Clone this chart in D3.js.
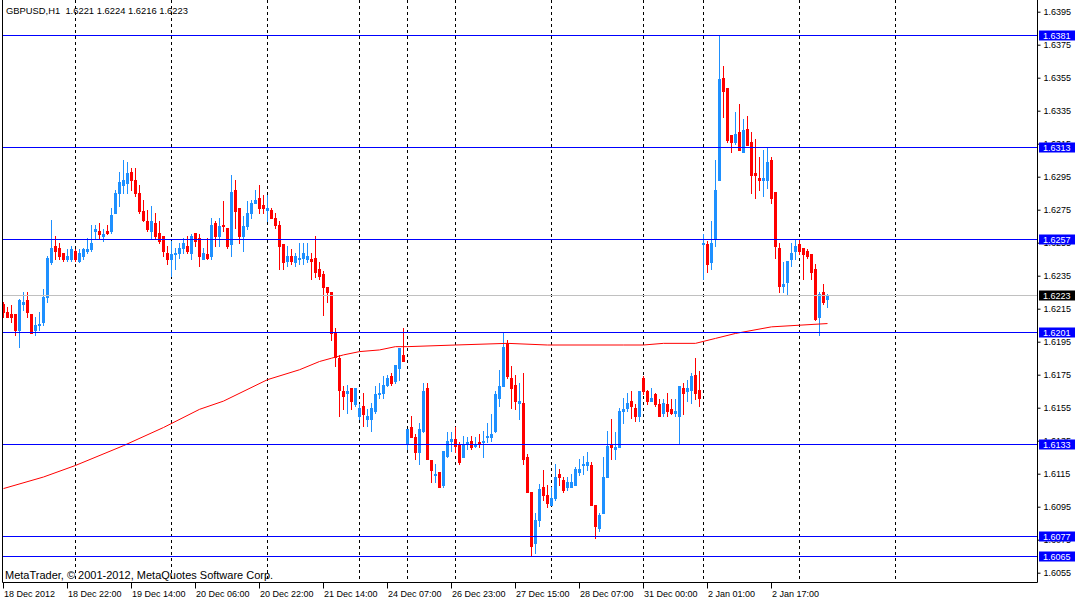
<!DOCTYPE html>
<html>
<head>
<meta charset="utf-8">
<script src="https://cdn.jsdelivr.net/npm/d3@7"></script>
<style>
	body { margin: 0; background: #fff; }
	svg { display: block; font-family: "Liberation Sans", Arial, sans-serif; }
</style>
</head>
<body>
<script>
// GBPUSD H1 candles, bar index = position in the arrays
var opens = [
	1.6218,1.6213,1.6212,1.6212,1.6202,1.6218,1.6220,1.6212,1.6202,1.6205,
	1.6207,1.6222,1.6243,1.6253,1.6252,1.6249,1.6245,1.6245,1.6250,1.6244,
	1.6247,1.6250,1.6251,1.6262,1.6262,1.6259,1.6262,1.6262,1.6273,1.6285,
	1.6290,1.6291,1.6298,1.6293,1.6285,1.6274,1.6268,1.6262,1.6267,1.6261,
	1.6259,1.6249,1.6245,1.6248,1.6249,1.6252,1.6253,1.6249,1.6261,1.6258,
	1.6245,1.6248,1.6247,1.6267,1.6259,1.6266,1.6264,1.6254,1.6287,1.6276,
	1.6259,1.6265,1.6273,1.6279,1.6282,1.6278,1.6275,1.6275,1.6270,1.6266,
	1.6254,1.6244,1.6247,1.6243,1.6245,1.6246,1.6245,1.6245,1.6246,1.6239,
	1.6236,1.6228,1.6225,1.6200,1.6185,1.6165,1.6164,1.6167,1.6157,1.6150,
	1.6156,1.6148,1.6148,1.6153,1.6163,1.6164,1.6169,1.6174,1.6171,1.6179,
	1.6187,1.6133,1.6143,1.6137,1.6128,1.6141,1.6167,1.6123,1.6114,1.6116,
	1.6108,1.6126,1.6135,1.6136,1.6133,1.6125,1.6133,1.6135,1.6132,1.6134,
	1.6134,1.6137,1.6137,1.6141,1.6161,1.6168,1.6194,1.6173,1.6169,1.6158,
	1.6158,1.6125,1.6104,1.6073,1.6087,1.6107,1.6102,1.6096,1.6100,1.6115,
	1.6111,1.6107,1.6107,1.6108,1.6116,1.6120,1.6120,1.6120,1.6096,1.6082,
	1.6091,1.6113,1.6133,1.6130,1.6131,1.6153,1.6155,1.6159,1.6155,1.6150,
	1.6173,1.6165,1.6159,1.6163,1.6157,1.6152,1.6157,1.6154,1.6152,1.6150,
	1.6167,1.6165,1.6166,1.6175,1.6166,1.6254,1.6254,1.6243,1.6257,1.6293,
	1.6355,1.6349,1.6320,1.6316,1.6322,1.6310,1.6324,1.6316,1.6297,1.6294,
	1.6293,1.6293,1.6305,1.6286,1.6252,1.6229,1.6231,1.6245,1.6250,1.6254,
	1.6252,1.6250,1.6248,1.6239,1.6210,1.6225,1.6221
];
var highs = [
	1.6219,1.6216,1.6217,1.6212,1.6221,1.6225,1.6225,1.6212,1.6210,1.6213,
	1.6227,1.6247,1.6269,1.6259,1.6255,1.6249,1.6251,1.6253,1.6251,1.6251,
	1.6252,1.6258,1.6266,1.6266,1.6267,1.6263,1.6266,1.6276,1.6287,1.6298,
	1.6305,1.6304,1.6300,1.6300,1.6290,1.6281,1.6275,1.6277,1.6273,1.6268,
	1.6259,1.6253,1.6256,1.6252,1.6255,1.6258,1.6259,1.6260,1.6261,1.6260,
	1.6252,1.6258,1.6270,1.6268,1.6270,1.6280,1.6264,1.6296,1.6293,1.6276,
	1.6271,1.6280,1.6281,1.6287,1.6290,1.6284,1.6284,1.6276,1.6273,1.6268,
	1.6254,1.6253,1.6251,1.6249,1.6255,1.6255,1.6255,1.6249,1.6259,1.6243,
	1.6238,1.6228,1.6225,1.6203,1.6187,1.6168,1.6169,1.6167,1.6167,1.6157,
	1.6164,1.6154,1.6158,1.6168,1.6170,1.6174,1.6175,1.6176,1.6181,1.6191,
	1.6203,1.6142,1.6150,1.6139,1.6146,1.6170,1.6170,1.6123,1.6121,1.6116,
	1.6129,1.6140,1.6140,1.6143,1.6134,1.6138,1.6137,1.6138,1.6137,1.6139,
	1.6141,1.6146,1.6151,1.6165,1.6178,1.6200,1.6196,1.6180,1.6175,1.6170,
	1.6176,1.6127,1.6104,1.6091,1.6109,1.6117,1.6108,1.6107,1.6121,1.6118,
	1.6113,1.6113,1.6115,1.6119,1.6124,1.6126,1.6128,1.6122,1.6096,1.6091,
	1.6125,1.6141,1.6148,1.6140,1.6155,1.6161,1.6164,1.6165,1.6157,1.6165,
	1.6174,1.6166,1.6167,1.6164,1.6160,1.6160,1.6164,1.6160,1.6160,1.6168,
	1.6170,1.6172,1.6176,1.6185,1.6177,1.6260,1.6256,1.6268,1.6305,1.6381,
	1.6362,1.6349,1.6320,1.6334,1.6339,1.6330,1.6332,1.6322,1.6318,1.6307,
	1.6311,1.6313,1.6307,1.6286,1.6255,1.6243,1.6244,1.6255,1.6257,1.6257,
	1.6252,1.6251,1.6248,1.6242,1.6225,1.6230,1.6224
];
var lows = [
	1.6210,1.6210,1.6207,1.6199,1.6192,1.6214,1.6210,1.6200,1.6199,1.6202,
	1.6205,1.6219,1.6242,1.6245,1.6245,1.6244,1.6244,1.6244,1.6244,1.6243,
	1.6245,1.6249,1.6250,1.6257,1.6258,1.6256,1.6260,1.6261,1.6273,1.6277,
	1.6285,1.6285,1.6287,1.6283,1.6273,1.6268,1.6262,1.6257,1.6257,1.6255,
	1.6247,1.6242,1.6235,1.6239,1.6246,1.6249,1.6249,1.6245,1.6253,1.6241,
	1.6245,1.6245,1.6245,1.6253,1.6253,1.6262,1.6252,1.6247,1.6264,1.6255,
	1.6250,1.6263,1.6270,1.6279,1.6273,1.6273,1.6268,1.6270,1.6264,1.6239,
	1.6239,1.6241,1.6242,1.6241,1.6242,1.6242,1.6243,1.6233,1.6234,1.6233,
	1.6211,1.6219,1.6196,1.6180,1.6150,1.6154,1.6152,1.6154,1.6156,1.6148,
	1.6144,1.6144,1.6141,1.6152,1.6161,1.6161,1.6168,1.6169,1.6170,1.6172,
	1.6183,1.6130,1.6137,1.6124,1.6121,1.6140,1.6124,1.6110,1.6110,1.6107,
	1.6107,1.6125,1.6129,1.6128,1.6121,1.6125,1.6130,1.6130,1.6131,1.6131,
	1.6125,1.6134,1.6135,1.6140,1.6156,1.6168,1.6173,1.6155,1.6154,1.6148,
	1.6121,1.6104,1.6065,1.6067,1.6083,1.6099,1.6095,1.6096,1.6099,1.6108,
	1.6104,1.6105,1.6107,1.6108,1.6114,1.6115,1.6117,1.6096,1.6076,1.6080,
	1.6091,1.6113,1.6124,1.6124,1.6131,1.6146,1.6153,1.6149,1.6147,1.6147,
	1.6163,1.6157,1.6159,1.6156,1.6150,1.6150,1.6150,1.6151,1.6150,1.6133,
	1.6151,1.6159,1.6158,1.6160,1.6156,1.6233,1.6237,1.6239,1.6253,1.6293,
	1.6331,1.6316,1.6310,1.6315,1.6311,1.6310,1.6314,1.6285,1.6282,1.6287,
	1.6283,1.6288,1.6279,1.6246,1.6225,1.6225,1.6224,1.6241,1.6245,1.6248,
	1.6233,1.6246,1.6233,1.6208,1.6199,1.6218,1.6216
];
var closes = [
	1.6213,1.6210,1.6210,1.6202,1.6220,1.6219,1.6213,1.6200,1.6205,1.6206,
	1.6222,1.6246,1.6252,1.6250,1.6247,1.6245,1.6247,1.6251,1.6245,1.6249,
	1.6251,1.6251,1.6255,1.6263,1.6260,1.6260,1.6261,1.6272,1.6285,1.6292,
	1.6293,1.6297,1.6293,1.6285,1.6274,1.6269,1.6263,1.6268,1.6259,1.6256,
	1.6250,1.6245,1.6248,1.6249,1.6252,1.6255,1.6250,1.6259,1.6256,1.6247,
	1.6249,1.6246,1.6266,1.6259,1.6265,1.6265,1.6253,1.6286,1.6274,1.6259,
	1.6265,1.6273,1.6279,1.6281,1.6276,1.6276,1.6276,1.6270,1.6266,1.6253,
	1.6243,1.6247,1.6244,1.6247,1.6246,1.6249,1.6247,1.6244,1.6237,1.6235,
	1.6228,1.6225,1.6200,1.6186,1.6166,1.6162,1.6165,1.6159,1.6167,1.6155,
	1.6151,1.6150,1.6155,1.6163,1.6164,1.6169,1.6173,1.6170,1.6181,1.6191,
	1.6183,1.6142,1.6137,1.6128,1.6142,1.6165,1.6124,1.6117,1.6115,1.6107,
	1.6129,1.6135,1.6136,1.6132,1.6122,1.6133,1.6134,1.6131,1.6133,1.6133,
	1.6135,1.6138,1.6139,1.6163,1.6168,1.6192,1.6174,1.6167,1.6159,1.6159,
	1.6124,1.6104,1.6071,1.6087,1.6106,1.6102,1.6097,1.6100,1.6113,1.6113,
	1.6105,1.6110,1.6110,1.6118,1.6118,1.6121,1.6122,1.6096,1.6083,1.6090,
	1.6113,1.6132,1.6131,1.6131,1.6153,1.6154,1.6158,1.6156,1.6150,1.6165,
	1.6165,1.6159,1.6161,1.6157,1.6150,1.6158,1.6153,1.6152,1.6153,1.6168,
	1.6164,1.6167,1.6174,1.6164,1.6161,1.6255,1.6242,1.6255,1.6287,1.6354,
	1.6347,1.6317,1.6316,1.6321,1.6311,1.6323,1.6314,1.6296,1.6296,1.6293,
	1.6294,1.6304,1.6282,1.6253,1.6229,1.6230,1.6244,1.6249,1.6253,1.6250,
	1.6248,1.6247,1.6237,1.6209,1.6224,1.6219,1.6223
];

// moving average, read at a few bars
var maBars   = [0, 10, 18, 30, 40, 49, 55, 66, 74, 79, 82, 85, 89, 94, 98, 101, 113, 126, 136, 155, 160, 165, 173, 178, 183, 192, 199, 206];
var maValues = [1.6106, 1.6113, 1.6120, 1.6132, 1.6143, 1.6154, 1.6159, 1.6172, 1.6178, 1.6183, 1.6185, 1.6187, 1.6189, 1.6190, 1.6192, 1.6192, 1.6193, 1.6194, 1.6193, 1.6193, 1.6193, 1.6194, 1.6194, 1.6197, 1.6200, 1.6204, 1.6205, 1.6206];

// horizontal levels and the bid line
var levels = [1.6381, 1.6313, 1.6257, 1.6201, 1.6133, 1.6077, 1.6065];
var bidPrice = 1.6223;

// price scale ticks
var priceTicks = [1.6395, 1.6375, 1.6355, 1.6335, 1.6315, 1.6295, 1.6275, 1.6255, 1.6235, 1.6215,
	1.6195, 1.6175, 1.6155, 1.6135, 1.6115, 1.6095, 1.6075, 1.6055];

// time scale ticks (bar index) and day separators
var timeTickBars = [0, 16, 32, 48, 64, 80, 96, 112, 128, 144, 160, 176, 192];
var timeTickLabels = ["18 Dec 2012", "18 Dec 22:00", "19 Dec 14:00", "20 Dec 06:00", "20 Dec 22:00",
	"21 Dec 14:00", "24 Dec 07:00", "26 Dec 23:00", "27 Dec 15:00", "28 Dec 07:00", "31 Dec 00:00",
	"2 Jan 01:00", "2 Jan 17:00"];
var daySeparators = [18, 42, 66, 89, 101, 113, 137, 160, 175, 199, 223];

var w = 1075, h = 599;
var left = 2, right = 1037, bottom = 582;

var svg = d3.select("body").append("svg")
	.attr("width", w)
	.attr("height", h);

svg.append("rect").attr("width", w).attr("height", h).attr("fill", "#fff");

// 4 px per bar
var x = d3.scaleLinear().domain([0, 258]).range([3.5, 3.5 + 4 * 258]);
var y = d3.scaleLinear().domain([1.6055, 1.6395]).range([572.7, 11.7]);

svg.append("clipPath").attr("id", "plot")
	.append("rect").attr("x", left).attr("y", 0).attr("width", right - left).attr("height", bottom);

var plot = svg.append("g").attr("clip-path", "url(#plot)");

// day separators
plot.selectAll(".sep")
	.data(daySeparators)
	.enter().append("line")
	.attr("class", "sep")
	.attr("x1", function(d){ return x(d); })
	.attr("x2", function(d){ return x(d); })
	.attr("y1", 0).attr("y2", bottom)
	.attr("stroke", "#000")
	.attr("stroke-dasharray", "3,3")
	.attr("shape-rendering", "crispEdges");

// candles
var bars = d3.range(opens.length);
var bull = "#1e90ff", bear = "#ff0000";
function col(i){ return closes[i] >= opens[i] ? bull : bear; }

var candle = plot.selectAll(".candle")
	.data(bars)
	.enter().append("g")
	.attr("class", "candle")
	.attr("shape-rendering", "crispEdges");

candle.append("line")
	.attr("x1", function(i){ return x(i); })
	.attr("x2", function(i){ return x(i); })
	.attr("y1", function(i){ return Math.round(y(highs[i])); })
	.attr("y2", function(i){ return Math.round(y(lows[i])) + 1; })
	.attr("stroke", col);

candle.append("rect")
	.attr("x", function(i){ return x(i) - 1.5; })
	.attr("width", 3)
	.attr("y", function(i){ return Math.round(y(Math.max(opens[i], closes[i]))); })
	.attr("height", function(i){
		return Math.max(1, Math.round(y(Math.min(opens[i], closes[i]))) - Math.round(y(Math.max(opens[i], closes[i]))) + 1);
	})
	.attr("fill", col);

// moving average
var ma = d3.line()
	.x(function(d){ return x(maBars[d]); })
	.y(function(d){ return y(maValues[d]); });

plot.append("path")
	.datum(d3.range(maBars.length))
	.attr("d", ma)
	.attr("fill", "none")
	.attr("stroke", "#ff0000")
	.attr("stroke-width", 1);

// bid line
plot.append("line")
	.attr("x1", left).attr("x2", right)
	.attr("y1", Math.round(y(bidPrice)) + 0.5).attr("y2", Math.round(y(bidPrice)) + 0.5)
	.attr("stroke", "#c0c0c0");

// horizontal levels
plot.selectAll(".level")
	.data(levels)
	.enter().append("line")
	.attr("class", "level")
	.attr("x1", left).attr("x2", right)
	.attr("y1", function(d){ return Math.round(y(d)) + 0.5; })
	.attr("y2", function(d){ return Math.round(y(d)) + 0.5; })
	.attr("stroke", "#0000ff");

// frame
svg.append("path")
	.attr("d", "M" + (left + 0.5) + ",0V" + (bottom + 0.5) + "H" + (right + 0.5) + "V0")
	.attr("fill", "none")
	.attr("stroke", "#000");

// price axis
var yAxis = svg.append("g")
	.attr("transform", "translate(" + (right + 0.5) + ",0)")
	.call(d3.axisRight(y).tickValues(priceTicks).tickSize(3).tickPadding(3).tickFormat(d3.format(".4f")));
yAxis.select(".domain").remove();
yAxis.selectAll("text").attr("font-size", 9).attr("font-family", "Liberation Sans, Arial").attr("fill", "#000");

// price labels for levels and bid
function priceTag(v, fill){
	var yy = Math.round(y(v)) + 0.5;
	svg.append("rect")
		.attr("x", right + 2).attr("y", yy - 5)
		.attr("width", w - right - 2).attr("height", 10)
		.attr("fill", fill);
	svg.append("text")
		.attr("x", right + 6).attr("y", yy)
		.attr("dy", "0.35em")
		.attr("font-size", 9)
		.attr("fill", "#fff")
		.text(d3.format(".4f")(v));
}
levels.forEach(function(v){ priceTag(v, "#0000ff"); });
priceTag(bidPrice, "#000");

// time axis
var xAxis = svg.append("g")
	.attr("transform", "translate(0," + (bottom + 0.5) + ")")
	.call(d3.axisBottom(x).tickValues(timeTickBars).tickSize(6).tickPadding(2)
		.tickFormat(function(d, i){ return timeTickLabels[i]; }));
xAxis.select(".domain").remove();
xAxis.selectAll(".tick line").attr("transform", "translate(-0.5,0)");
xAxis.selectAll("text")
	.attr("text-anchor", "start")
	.attr("x", 0)
	.attr("font-size", 9)
	.attr("font-family", "Liberation Sans, Arial")
	.attr("fill", "#000");

// title and copyright
svg.append("text")
	.attr("x", 6).attr("y", 13.5)
	.attr("font-size", 9.4)
	.attr("xml:space", "preserve")
	.text("GBPUSD,H1  1.6221 1.6224 1.6216 1.6223");

svg.append("text")
	.attr("x", 5).attr("y", 579)
	.attr("font-size", 11)
	.text("MetaTrader, \u00a9 2001-2012, MetaQuotes Software Corp.");
</script>
</body>
</html>
